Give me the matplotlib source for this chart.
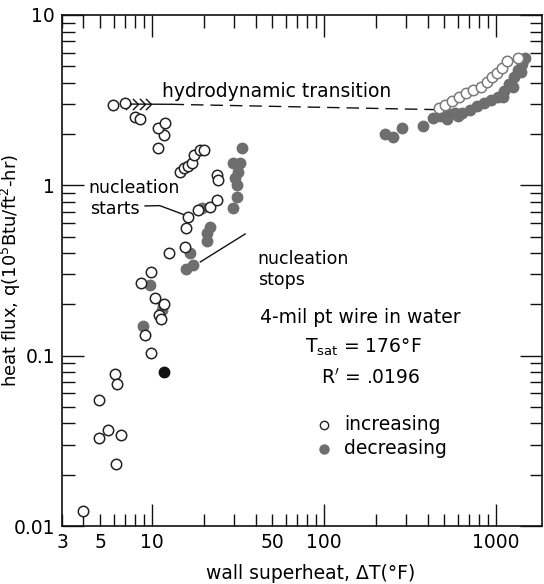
import numpy as np
import matplotlib.pyplot as plt
from matplotlib.path import Path

plt.rcParams['font.family'] = ['DejaVu Sans']
plt.rcParams['mathtext.fontset'] = 'dejavusans'

# increasing heat flux (open circles)
inc_x = [4.0, 4.92, 4.92, 5.55, 6.61, 6.09, 6.27, 6.18, 9.88, 9.12, 10.4, 11.0, 11.3, 11.8,
         8.64, 9.88, 12.6, 15.6, 15.8, 16.2, 18.5, 21.8, 23.9, 23.9, 24.2, 14.6, 15.4, 16.2,
         17.1, 17.6, 19.1, 20.1, 10.8, 11.8, 10.8, 11.9, 5.95, 6.97, 7.98, 8.53]
inc_y = [0.0122, 0.055, 0.0329, 0.0366, 0.0342, 0.078, 0.0683, 0.0231, 0.104, 0.132, 0.218,
         0.173, 0.164, 0.201, 0.267, 0.310, 0.401, 0.435, 0.562, 0.652, 0.716, 0.746, 0.820,
         1.15, 1.07, 1.20, 1.26, 1.30, 1.35, 1.51, 1.61, 1.61, 1.66, 1.98, 2.17, 2.32, 2.96,
         3.04, 2.52, 2.45]
inc_hi_x = [467, 506, 555, 610, 670, 736, 819, 887, 949, 1014, 1085, 1160, 1343]
inc_hi_y = [2.84, 2.96, 3.13, 3.30, 3.48, 3.63, 3.78, 4.04, 4.33, 4.56, 4.89, 5.37, 5.59]

# decreasing heat flux (filled circles)
dec_x = [8.87, 9.73, 11.6, 11.4, 15.8, 17.3, 16.6, 20.9, 20.9, 21.8, 19.6,
         33.4, 32.5, 29.6, 31.6, 30.4, 31.2, 31.2, 29.6,
         226, 252, 284, 377, 431, 473, 519, 578, 635, 707, 776, 852, 936, 1028, 1114,
         1191, 1274, 1343, 1417, 1476, 520, 600, 1100, 1250, 1400]
dec_y = [0.149, 0.260, 0.198, 0.185, 0.323, 0.341, 0.401, 0.471, 0.525, 0.569, 0.736,
         1.66, 1.35, 1.35, 1.20, 1.10, 1.00, 0.854, 0.736,
         2.00, 1.92, 2.17, 2.23, 2.49, 2.55, 2.66, 2.66, 2.66, 2.77, 2.92, 3.04, 3.17, 3.30,
         3.58, 3.94, 4.33, 4.76, 5.15, 5.59, 2.45, 2.55, 3.30, 3.80, 4.60]
dark_x = [11.8]
dark_y = [0.080]

fig = plt.figure(figsize=(5.44, 5.84), dpi=100)
ax = fig.add_axes([62 / 544, 58 / 584, 480 / 544, 511 / 584])
ax.set_xscale('log')
ax.set_yscale('log')
ax.set_xlim(3, 1850)
ax.set_ylim(0.01, 10)

ms = 7.5
ax.plot(dec_x, dec_y, 'o', ms=ms, color='#6e6e6e', mec='#6e6e6e', zorder=3)
ax.plot(dark_x, dark_y, 'o', ms=ms, color='#111111', zorder=3)
ax.plot(inc_x, inc_y, 'o', ms=ms, mfc='white', mec='#222222', mew=1.1, zorder=4)
ax.plot(inc_hi_x, inc_hi_y, 'o', ms=ms, mfc='white', mec='#7a7a7a', mew=1.1, zorder=4)

# hydrodynamic transition line with chevrons
chev = Path([(-1, 1), (0, 0), (-1, -1)], [Path.MOVETO, Path.LINETO, Path.LINETO])
ax.plot(np.geomspace(7.6, 9.9, 4), [3.0] * 4, ls='none', marker=chev, ms=8,
        mfc='none', mec='#111111', mew=1.0)
ax.plot([7.3, 13], [3.0, 2.99], color='#111111', lw=1.0)
ax.plot([13, 470], [2.99, 2.78], color='#111111', lw=1.0, dashes=(9, 5))
ax.text(0.208, 0.840, 'hydrodynamic transition', transform=ax.transAxes,
        fontsize=13.5, ha='left', va='baseline')

# nucleation annotations
fs_n = 12.5
ax.text(0.054, 0.652, 'nucleation', transform=ax.transAxes, fontsize=fs_n, va='baseline')
ax.text(0.058, 0.610, 'starts', transform=ax.transAxes, fontsize=fs_n, va='baseline')
ax.plot([9.12, 11.1, 15.5], [0.757, 0.76, 0.67], color='#111111', lw=1.0)
ax.text(0.408, 0.513, 'nucleation', transform=ax.transAxes, fontsize=fs_n, va='baseline')
ax.text(0.408, 0.471, 'stops', transform=ax.transAxes, fontsize=fs_n, va='baseline')
ax.plot([34.8, 19.1], [0.518, 0.355], color='#111111', lw=1.0)

# conditions and key
ax.text(0.621, 0.409, '4-mil pt wire in water', transform=ax.transAxes,
        fontsize=13.5, ha='center', va='center')
ax.text(0.627, 0.350, r'T$_{\mathregular{sat}}$ = 176°F', transform=ax.transAxes,
        fontsize=13.5, ha='center', va='center')
ax.text(0.644, 0.290, r"R$^{\prime}$ = .0196", transform=ax.transAxes,
        fontsize=13.5, ha='center', va='center')
ax.plot([0.546], [0.198], 'o', ms=6, mfc='white', mec='#222222', mew=1.0,
        transform=ax.transAxes)
ax.plot([0.546], [0.151], 'o', ms=6.5, color='#6e6e6e', transform=ax.transAxes)
ax.text(0.5875, 0.198, 'increasing', transform=ax.transAxes, fontsize=13.5, va='center')
ax.text(0.5875, 0.151, 'decreasing', transform=ax.transAxes, fontsize=13.5, va='center')

# ticks
ax.set_xticks([10, 100, 1000], labels=['10', '100', '1000'])
x_minor = [3, 4, 5, 6, 7, 8, 9, 20, 30, 40, 50, 60, 70, 80, 90,
           200, 300, 400, 500, 600, 700, 800, 900]
x_minor_lab = ['3', '', '5', '', '', '', '', '', '', '', '50', '', '', '', '',
               '', '', '', '', '', '', '', '']
ax.set_xticks(x_minor, labels=x_minor_lab, minor=True)
ax.set_yticks([0.01, 0.1, 1, 10], labels=['0.01', '0.1', '1', '10'])
ax.tick_params(which='both', direction='in', top=True, right=True,
               labelsize=13.5, width=1.0, color='#111111', pad=5)
ax.tick_params(which='major', length=16)
ax.tick_params(which='minor', length=9)
for s in ax.spines.values():
    s.set_linewidth(1.2)
    s.set_color('#111111')

ax.set_xlabel('wall superheat, ΔT(°F)', fontsize=13.5)
ax.xaxis.set_label_coords(0.519, -0.075)
ax.set_ylabel(r'heat flux, q(10$^5$Btu/ft$^2$-hr)', fontsize=13)
ax.yaxis.set_label_coords(-0.082, 0.5)

plt.savefig('out.png', dpi=100)
plt.close()
